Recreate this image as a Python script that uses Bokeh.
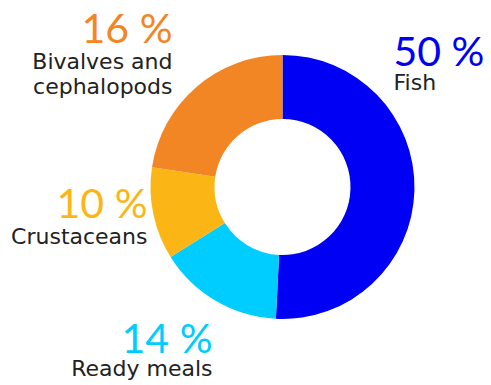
import math
from bokeh.plotting import figure
from bokeh.models import Range1d, ColumnDataSource
from bokeh.core.properties import value
from bokeh.embed import file_html
from bokeh.resources import INLINE

# --- data ---
categories = ["Fish", "Ready meals", "Crustaceans", "Bivalves and\ncephalopods"]
shares = [50.8, 15.3, 11.3, 22.6]          # slice sizes as drawn
pct_labels = ["50 %", "14 %", "10 %", "16 %"]
colors = ["#0000f5", "#00cdff", "#fbb616", "#f28524"]

W, H = 491, 385
p = figure(width=W, height=H, output_backend="svg", toolbar_location=None,
           x_range=Range1d(0, W), y_range=Range1d(0, H),
           min_border=0, outline_line_color=None)
p.axis.visible = False
p.grid.visible = False
p.background_fill_color = "white"
p.border_fill_color = "white"

total = sum(shares)
starts, ends = [], []
cum = 0.0
for s in shares:
    starts.append(math.pi / 2 - 2 * math.pi * cum / total)
    cum += s
    ends.append(math.pi / 2 - 2 * math.pi * cum / total)

cx, cy = 282, H - 186.5
src = ColumnDataSource(dict(start=starts, end=ends, color=colors))
p.annular_wedge(x=cx, y=cy, inner_radius=68, outer_radius=132,
                start_angle="start", end_angle="end", direction="clock",
                fill_color="color", line_color=None, source=src)

# label layout (pixel-space positions, from top-left)
lx = [393, 212, 147, 172]
pct_y = [50, 337, 202, 27]
name_y = [82, 368, 236, 61]
align = ["left", "right", "right", "right"]

pfont = value("Lato")
lfont = value("DejaVu Sans")
for i in range(len(categories)):
    p.text(x=[lx[i]], y=[H - pct_y[i]], text=[pct_labels[i]],
           text_font=pfont, text_font_size="41px", text_color=colors[i],
           text_align=align[i], text_baseline="alphabetic")
    lines = categories[i].split("\n")
    for j, ln in enumerate(lines):
        base = name_y[i] + j * 25
        p.text(x=[lx[i]], y=[H - base], text=[ln],
               text_font=lfont, text_font_size="22px", text_color="#222222",
               text_align=align[i], text_baseline="alphabetic")

open("out.html", "w").write(file_html(p, INLINE))
